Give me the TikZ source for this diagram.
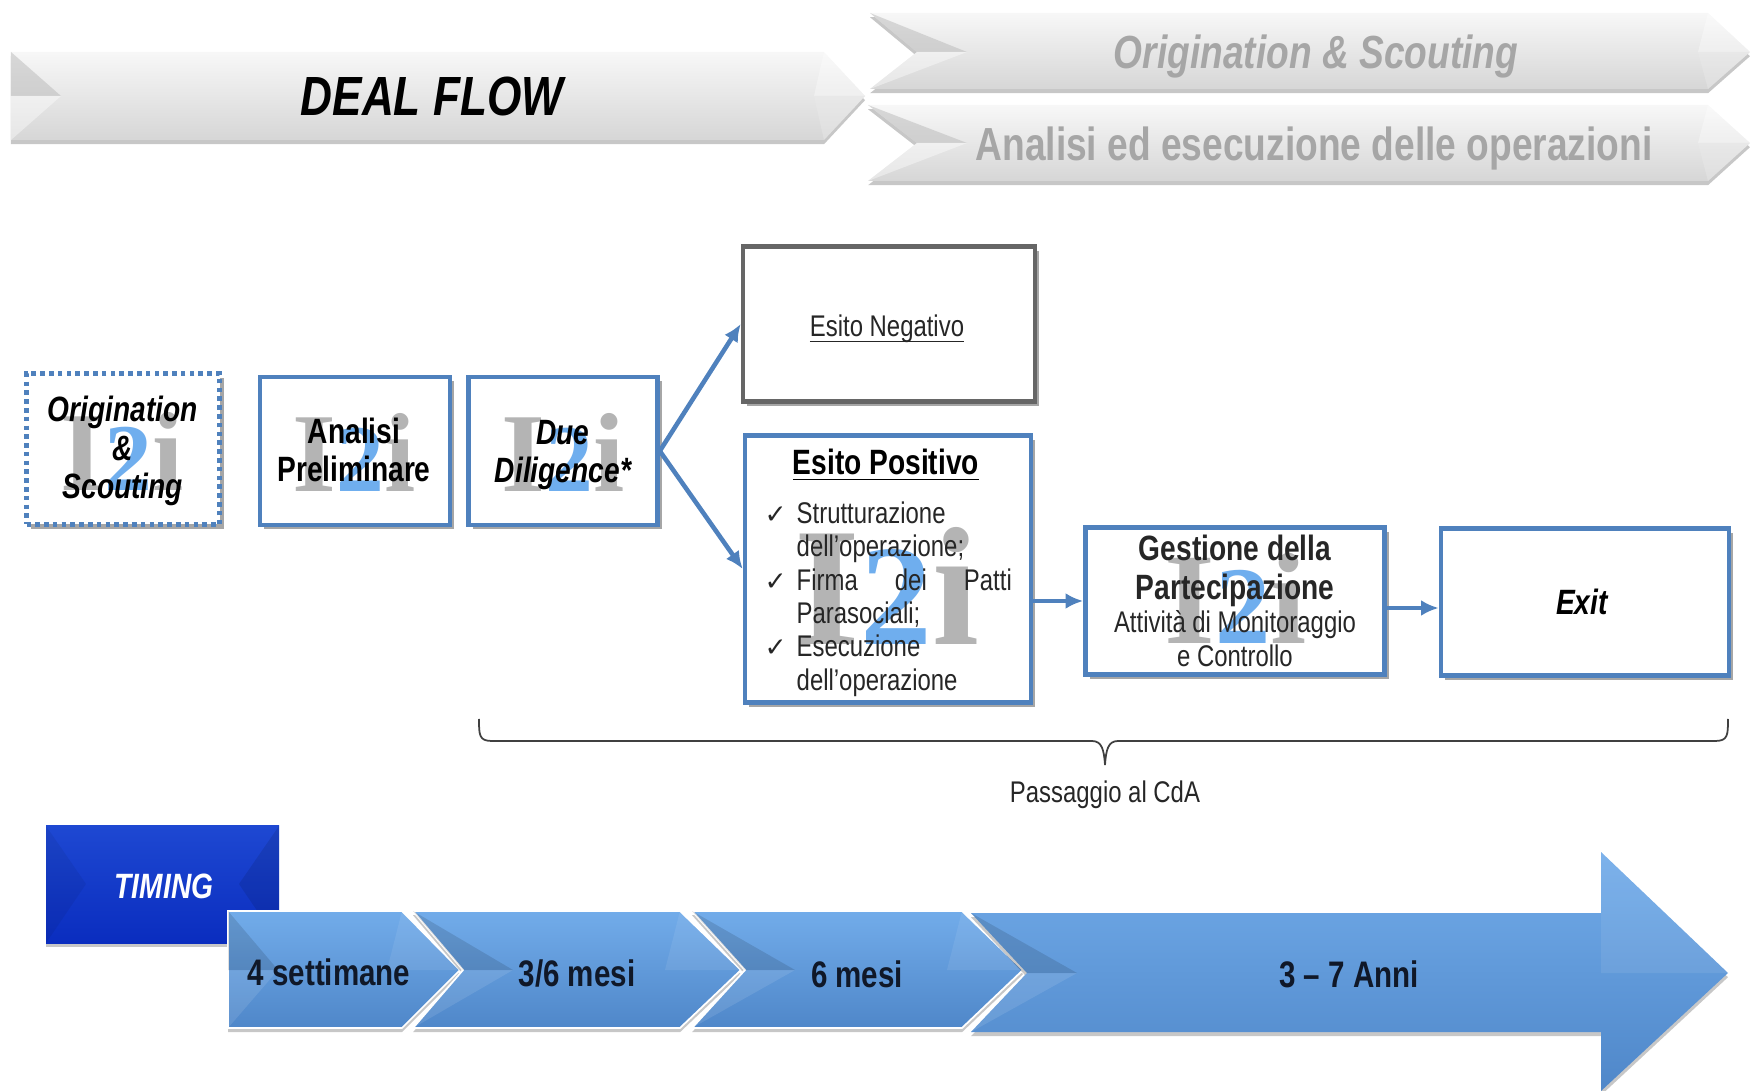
\documentclass[tikz,border=0pt]{standalone}
\usepackage{fontspec}
\setmainfont[FakeStretch=0.8]{Liberation Sans}
\newfontfamily\logofont{Liberation Serif}
\newfontfamily\tickfont{DejaVu Sans}
\usetikzlibrary{arrows.meta}
\usetikzlibrary{shadows}

\definecolor{boxblue}{HTML}{4F81BD}
\definecolor{logogrey}{HTML}{B4B4B4}
\definecolor{logoblue}{HTML}{6FAEEE}
\definecolor{fadegrey}{HTML}{A6A6A6}
\definecolor{inkblue}{HTML}{101828}
\definecolor{steeltop}{HTML}{72ACEA}
\definecolor{steelmid}{HTML}{5C96DA}
\definecolor{steellow}{HTML}{4F87C9}
\definecolor{royaltop}{HTML}{1E48D2}
\definecolor{royalmid}{HTML}{0A2DBF}

\newcommand{\logomark}{{\color{logogrey}I}{\color{logoblue}\scalebox{.85}{2}}{\color{logogrey}i}}
\newcommand{\tickline}{\makebox[.32cm][l]{\tickfont\fontsize{7.5}{9.5}\selectfont ✓}}
\newcommand{\notick}{\hspace*{.32cm}}
\newcommand{\boldline}{\fontsize{10}{11}\selectfont\bfseries}

\tikzset{
softshadow/.style={drop shadow={shadow xshift=1.2pt,shadow yshift=-1.2pt,opacity=.35,fill=black}},
bandshadow/.style={drop shadow={shadow xshift=0pt,shadow yshift=-1.2pt,opacity=.22,fill=black}},
flowbox/.style={draw=boxblue,line width=1.3pt,fill=white,softshadow,inner sep=0pt},
dotbox/.style={flowbox,dash pattern=on 1.3pt off 1.2pt},
greybox/.style={flowbox,draw=black!60},
boxtitle/.style={align=center,font=\fontsize{10}{11}\selectfont\bfseries\itshape,text=black},
boxtitleup/.style={align=center,font=\fontsize{10}{11}\selectfont\bfseries,text=black},
boxplain/.style={align=center,font=\fontsize{8.5}{9.5}\selectfont,text=black!85},
logotext/.style={font=\logofont\bfseries\fontsize{#1}{#1}\selectfont,inner sep=0pt},
flowarrow/.style={-{Latex[length=5pt,width=4.5pt]},draw=boxblue,line width=1.3pt},
bandtext/.style={font=\fontsize{13.2}{15}\selectfont\bfseries,text=fadegrey},
weektext/.style={font=\fontsize{10.5}{12}\selectfont\bfseries,text=inkblue},
steelshade/.style={top color=steeltop,middle color=steelmid,bottom color=steellow,bandshadow}
}

\begin{document}
\begin{tikzpicture}[x=0.01cm,y=-0.01cm]
\useasboundingbox (0,0) rectangle (1750,1091);

% grey bands
\foreach \xl/\xn/\xs/\xt/\yt/\ym/\yb in {11/11/824/865/52/96/140,870/917/1708/1750/13/52/89,868/917/1708/1750/105/143/181}{
\shade[top color=black!3,middle color=black!15,bottom color=black!16,bandshadow] (\xl,\yt)--(\xs,\yt)--(\xt,\ym)--(\xs,\yb)--(\xl,\yb)--(\xn,\ym)--cycle;
\fill[black!30,opacity=.45] (\xl,\yt)--(\xn+50,\ym)--(\xn,\ym)--cycle;
\fill[white,opacity=.4] (\xl,\yb)--(\xn+50,\ym)--(\xn,\ym)--cycle;
\fill[white,opacity=.35] (\xs,\yt)--(\xt,\ym)--(\xs-10,\ym)--cycle;
\fill[black!8,opacity=.4] (\xs,\yb)--(\xt,\ym)--(\xs-10,\ym)--cycle;
}
\node[font=\fontsize{15.7}{18}\selectfont\bfseries\itshape,text=black] (dealflow) at (432,96) {DEAL FLOW};
\node[bandtext,font=\fontsize{13.2}{15}\selectfont\bfseries\itshape] (origband) at (1316,57) {Origination \& Scouting};
\node[bandtext] (analband) at (1314,149) {Analisi ed esecuzione delle operazioni};

% boxes
\foreach \name/\cx/\cy/\w/\h/\look in {ori/123/449/193/151/dotbox,ana/355/451/190/148/flowbox,due/563/451/189/148/flowbox,neg/889/324/292/155/greybox,pos/888/569/286/267/flowbox,ges/1235/601/299/147/flowbox,exit/1585/602/288/147/flowbox}{
\node[\look,minimum width=\w*0.01cm,minimum height=\h*0.01cm] (\name) at (\cx,\cy) {};
}

% logos
\foreach \name/\cx/\cy/\fs in {orilogo/122/451/32,analogo/354/452/32,duelogo/563/452/32,poslogo/887/586/48,geslogo/1236/598/37}{
\node[logotext=\fs] (\name) at (\cx,\cy) {\logomark};
}

% box texts
\node[boxtitle] (oritext) at (123,451) {Origination\\\&\\Scouting};
\node[boxtitleup] (anatext) at (354,450) {Analisi\\Preliminare};
\node[boxtitle] (duetext) at (563,455) {Due\\Diligence*};
\node[boxplain] (negtext) at (887,340) {\underline{\smash{Esito Negativo}}};
\node[boxtitleup] (postitle) at (886,465) {\underline{Esito Positivo}};
\node[boxplain,align=left,anchor=north west,inner sep=0pt] (posbody) at (764,501) {\tickline Strutturazione\\
\notick dell’operazione;\\
\tickline\makebox[2.15cm][s]{Firma\hfill dei\hfill Patti}\\
\notick Parasociali;\\
\tickline Esecuzione\\
\notick dell’operazione};
\node[boxplain] (gestext) at (1235,601) {{\boldline Gestione della}\\[1.5pt]{\boldline Partecipazione}\\Attività di Monitoraggio\\e Controllo};
\node[boxtitle] (exittext) at (1582,602) {Exit};

% arrows
\draw[flowarrow] (due.east)--(neg.west);
\draw[flowarrow] (due.east)--(pos.west);
\draw[flowarrow] (pos.east |- ges.west)--(ges.west);
\draw[flowarrow] (ges.east |- 0,608)--(exit.west |- 0,608);

% brace
\draw[black!75,line width=.5pt] (479,719) .. controls (479,735) and (479,741) .. (492,741)--(1092,741) .. controls (1102,741) and (1104,750) .. (1105,765) .. controls (1106,750) and (1108,741) .. (1118,741)--(1715,741) .. controls (1728,741) and (1728,735) .. (1728,719);
\node[boxplain] (cda) at (1105,795) {Passaggio al CdA};

% timing
\shade[top color=royaltop,middle color=royalmid,bottom color=royalmid,bandshadow] (46,826) rectangle (279,943);
\fill[black,opacity=.06] (46,826)--(86,884)--(46,943)--cycle;
\fill[black,opacity=.1] (279,826)--(239,884)--(279,943)--cycle;
\node[font=\fontsize{10}{12}\selectfont\bfseries\itshape,text=white] (timing) at (164,886) {TIMING};

% blue chevrons
\foreach \xl/\xn/\xs/\xt in {228/228/402/460,413/463/680/741,692/745/962/1023}{
\shade[steelshade,draw=white,line width=.5pt] (\xl,911)--(\xs,911)--(\xt,970)--(\xs,1028)--(\xl,1028)--(\xn,970)--cycle;
\fill[black,opacity=.12] (\xl,911)--(\xn+50,970)--(\xn,970)--cycle;
\fill[white,opacity=.1] (\xl,1028)--(\xn+50,970)--(\xn,970)--cycle;
\fill[white,opacity=.08] (\xs,911)--(\xt,970)--(\xs-15,970)--cycle;
}
\shade[steelshade] (971,913)--(1601,913)--(1601,852)--(1728,973)--(1601,1091)--(1601,1032)--(971,1032)--(1027,973)--cycle;
\fill[black,opacity=.12] (971,913)--(1077,973)--(1027,973)--cycle;
\fill[white,opacity=.1] (971,1032)--(1077,973)--(1027,973)--cycle;
\fill[white,opacity=.08] (1601,852)--(1728,973)--(1601,973)--cycle;
\node[weektext] (week) at (329,972) {4 settimane};
\node[weektext] (mesia) at (577,973) {3/6 mesi};
\node[weektext] (mesib) at (857,974) {6 mesi};
\node[weektext] (anni) at (1349,974) {3 -- 7 Anni};
\end{tikzpicture}
\end{document}
